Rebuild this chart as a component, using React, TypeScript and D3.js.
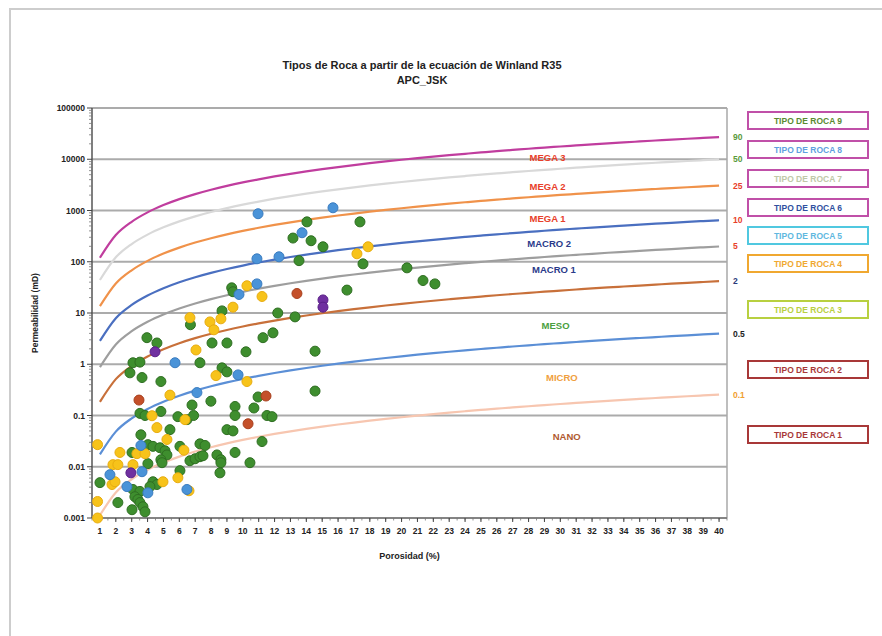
import React from 'react';
import * as d3 from 'd3';

// ---------- DATA ----------
const POROSITY = [1, 2, 3, 4, 5, 6, 7, 8, 9, 10, 11, 12, 13, 14, 15, 16, 17, 18, 19, 20,
  21, 22, 23, 24, 25, 26, 27, 28, 29, 30, 31, 32, 33, 34, 35, 36, 37, 38, 39, 40];
const R35_VALUES = [90, 50, 25, 10, 5, 2, 0.5, 0.1];
const R35_LABELS = ['90', '50', '25', '10', '5', '2', '0.5', '0.1'];
const Y_TICKS = [0.001, 0.01, 0.1, 1, 10, 100, 1000, 10000, 100000];
const Y_TICK_LABELS = ['0.001', '0.01', '0.1', '1', '10', '100', '1000', '10000', '100000'];
const X_TICKS = POROSITY;

const ZONE_LABELS = ['MEGA 3', 'MEGA 2', 'MEGA 1', 'MACRO 2', 'MACRO 1', 'MESO', 'MICRO', 'NANO'];
const ZONE_X = [29.2, 29.2, 29.2, 29.3, 29.6, 29.7, 30.1, 30.4];
const ZONE_K = [10700, 3000, 690, 225, 70, 5.6, 0.55, 0.039];

const LEGEND_LABELS = ['TIPO DE ROCA 9', 'TIPO DE ROCA 8', 'TIPO DE ROCA 7', 'TIPO DE ROCA 6',
  'TIPO DE ROCA 5', 'TIPO DE ROCA 4', 'TIPO DE ROCA 3', 'TIPO DE ROCA 2', 'TIPO DE ROCA 1'];

// porosity (%), permeability (mD)
const greenPoints: [number, number][] = [
  [3.96, 3.3], [4.59, 2.6], [8.06, 2.6], [9.0, 2.6], [10.2, 1.75], [12.2, 10], [11.27, 3.3], [11.9, 4.1],
  [3.08, 1.07], [3.52, 1.1], [2.89, 0.68], [7.3, 1.07], [8.69, 0.85], [9.0, 0.71], [3.65, 0.55], [4.84, 0.46],
  [7.99, 0.19], [10.96, 0.23], [9.51, 0.15], [9.51, 0.10], [10.7, 0.14], [3.52, 0.11], [3.84, 0.10], [4.84, 0.12],
  [5.91, 0.095], [6.48, 0.083], [6.8, 0.16], [6.9, 0.1], [11.52, 0.1], [11.84, 0.095], [5.41, 0.053], [9.0, 0.053],
  [9.38, 0.05], [3.58, 0.042], [11.21, 0.031], [4.02, 0.027], [4.34, 0.025], [4.78, 0.0235], [5.1, 0.0205],
  [5.22, 0.017], [6.04, 0.025], [7.3, 0.028], [7.62, 0.026], [9.51, 0.019], [3.02, 0.019], [8.37, 0.017],
  [8.62, 0.0137], [8.62, 0.012], [8.56, 0.0076], [6.67, 0.0131], [6.99, 0.0143], [7.3, 0.0157], [7.49, 0.0164],
  [4.84, 0.0137], [4.91, 0.012], [10.45, 0.012], [4.02, 0.0115], [6.04, 0.0084], [1.0, 0.0049], [4.34, 0.0051],
  [4.59, 0.0045], [4.15, 0.0041], [3.08, 0.0036], [3.52, 0.0033], [3.2, 0.0026], [3.39, 0.0023], [2.13, 0.002],
  [3.52, 0.002], [3.71, 0.00166], [3.84, 0.00132], [3.02, 0.00145],
  [14.04, 600], [17.38, 600], [13.16, 290], [14.3, 257], [15.05, 196], [13.54, 105], [17.57, 91], [9.3, 31],
  [9.38, 26], [8.69, 11], [13.29, 8.4], [16.56, 28], [20.34, 76], [21.35, 43], [22.1, 37],
  [14.55, 1.8], [14.55, 0.3], [6.7, 5.9],
];
const yellowPoints: [number, number][] = [
  [6.67, 8.1], [7.93, 6.7], [8.18, 4.7], [8.62, 7.7], [9.38, 13], [10.26, 34], [11.21, 21], [7.05, 1.9],
  [8.31, 0.6], [10.26, 0.46], [5.41, 0.25], [4.28, 0.099], [6.36, 0.083], [4.59, 0.058], [5.22, 0.034],
  [0.85, 0.027], [6.29, 0.021], [2.26, 0.019], [3.33, 0.018], [3.84, 0.018], [1.82, 0.011], [2.13, 0.011],
  [3.08, 0.011], [4.97, 0.0051], [5.91, 0.0061], [1.76, 0.0045], [1.95, 0.0051], [6.61, 0.0034],
  [0.85, 0.0021], [0.85, 0.001], [17.19, 143], [17.89, 196],
];
const bluePoints: [number, number][] = [
  [10.96, 865], [15.68, 1130], [13.73, 368], [10.89, 114], [12.28, 125], [10.89, 37], [9.76, 23],
  [5.73, 1.07], [9.7, 0.62], [7.11, 0.28], [3.58, 0.026], [1.63, 0.007], [3.65, 0.008], [2.7, 0.0041],
  [4.02, 0.0031], [6.48, 0.0036],
];
const purplePoints: [number, number][] = [[4.47, 1.75], [2.95, 0.0076], [15.05, 18], [15.05, 13]];
const redPoints: [number, number][] = [[3.46, 0.2], [11.46, 0.24], [10.33, 0.069], [13.41, 24]];

// Winland R35: log r35 = 0.732 + 0.588 log k - 0.864 log phi
const winlandK = (r35: number, phi: number) =>
  Math.pow(10, (Math.log10(r35) - 0.732 + 0.864 * Math.log10(phi)) / 0.588);

// ---------- STYLE / LAYOUT ----------
const W = 882, H = 636;
const P = { left: 92, right: 727, top: 108, bottom: 518 };
const FONT = 'Liberation Sans, Arial, sans-serif';
const CURVE_COLORS = ['#c03d9e', '#d9d9d9', '#f0924a', '#4a6fc0', '#9e9e9e', '#c8703a', '#5b8fd6', '#f7c6b0'];
const R35_LABEL_COLORS = ['#5a9a3a', '#5a9a3a', '#e8402a', '#e8402a', '#e8402a', '#2a3a7a', '#222222', '#f0a030'];
const ZONE_COLORS = ['#e8402a', '#e8402a', '#e8402a', '#2a3a8a', '#2a3a8a', '#4aa040', '#f0a040', '#b05a30'];
const LEGEND_Y = [112, 141, 170, 199, 227, 255, 301, 361, 426];
const LEGEND_STROKE = ['#c050a8', '#c050a8', '#c050a8', '#c050a8', '#50c8e0', '#f0a830', '#b8d040', '#a83838', '#a83838'];
const LEGEND_TEXT = ['#5a8a30', '#5fa0e0', '#c0c8a8', '#3050a0', '#60b8e0', '#f0a830', '#b8d040', '#a83838', '#a83838'];

const SERIES = [
  { pts: greenPoints, fill: '#3e8e2e', stroke: '#2f6e22' },
  { pts: yellowPoints, fill: '#f7c31a', stroke: '#e8ac10' },
  { pts: bluePoints, fill: '#4a93d8', stroke: '#3a7cc0' },
  { pts: redPoints, fill: '#c4502a', stroke: '#a8401e' },
  { pts: purplePoints, fill: '#7030a0', stroke: '#5a2088' },
];

export default function App() {
  const x = d3.scaleLinear().domain([0.5, 40.5]).range([P.left, P.right]);
  const y = d3.scaleLog().domain([0.001, 100000]).range([P.bottom, P.top]);
  const line = d3.line<number>()
    .x((d) => x(d))
    .curve(d3.curveMonotoneX);

  const minorY: number[] = [];
  for (let e = -3; e < 5; e++) for (let m = 2; m <= 9; m++) minorY.push(m * Math.pow(10, e));
  const minorX = d3.range(0.5, 40.6, 0.5);

  return (
    <svg width={W} height={H} style={{ position: 'absolute', left: 0, top: 0, background: '#fff' }}
      fontFamily={FONT}>
      <rect x={10} y={9} width={900} height={700} fill="#fff" stroke="#cdcdcd" strokeWidth={2} />
      <text x={422} y={69} textAnchor="middle" fontSize={11} fontWeight="bold" fill="#222">
        Tipos de Roca a partir de la ecuación de Winland R35
      </text>
      <text x={422} y={84} textAnchor="middle" fontSize={11} fontWeight="bold" fill="#222">APC_JSK</text>

      {/* gridlines */}
      {Y_TICKS.map((t) => (
        <line key={'g' + t} x1={P.left} x2={P.right} y1={y(t)} y2={y(t)} stroke="#ababab" strokeWidth={2} />
      ))}
      <line x1={P.right} x2={P.right} y1={P.top} y2={P.bottom} stroke="#a8a8a8" strokeWidth={1.5} />

      {/* curves */}
      {R35_VALUES.map((r, i) => (
        <path key={'c' + r} d={line.y((phi) => y(winlandK(r, phi)))(POROSITY) || ''} fill="none"
          stroke={CURVE_COLORS[i]} strokeWidth={2.2} />
      ))}

      {/* axes */}
      <line x1={P.left} x2={P.left} y1={P.top} y2={P.bottom} stroke="#555" strokeWidth={1.5} />
      {minorY.map((t) => (
        <line key={'my' + t} x1={P.left - 3} x2={P.left} y1={y(t)} y2={y(t)} stroke="#777" strokeWidth={0.8} />
      ))}
      {Y_TICKS.map((t, i) => (
        <g key={'yt' + t}>
          <line x1={P.left - 5} x2={P.left} y1={y(t)} y2={y(t)} stroke="#444" strokeWidth={1} />
          <text x={85} y={y(t) + 3} textAnchor="end" fontSize={8.5} fontWeight="bold" fill="#222">
            {Y_TICK_LABELS[i]}
          </text>
        </g>
      ))}
      <line x1={P.left} x2={P.right} y1={P.bottom} y2={P.bottom} stroke="#777" strokeWidth={1.5} />
      {minorX.map((t) => (
        <line key={'mx' + t} x1={x(t)} x2={x(t)} y1={P.bottom} y2={P.bottom + 2.5} stroke="#777" strokeWidth={0.8} />
      ))}
      {X_TICKS.map((t) => (
        <g key={'xt' + t}>
          <line x1={x(t)} x2={x(t)} y1={P.bottom} y2={P.bottom + 4} stroke="#444" strokeWidth={1} />
          <text x={x(t)} y={534} textAnchor="middle" fontSize={8.5} fontWeight="bold" fill="#222">{t}</text>
        </g>
      ))}
      <text x={(P.left + P.right) / 2} y={559} textAnchor="middle" fontSize={9} fontWeight="bold" fill="#222">
        Porosidad (%)
      </text>
      <text transform={`translate(38,${(P.top + P.bottom) / 2}) rotate(-90)`} textAnchor="middle" fontSize={8.5}
        fontWeight="bold" fill="#222">
        Permeabilidad (mD)
      </text>

      {/* points */}
      {SERIES.map((s, si) => (
        <g key={'s' + si}>
          {s.pts.map((p, j) => (
            <circle key={j} cx={x(p[0])} cy={y(p[1])} r={5} fill={s.fill} stroke={s.stroke} strokeWidth={1} />
          ))}
        </g>
      ))}

      {/* zone labels */}
      {ZONE_LABELS.map((z, i) => (
        <text key={z} x={x(ZONE_X[i])} y={y(ZONE_K[i]) + 3.5} textAnchor="middle" fontSize={9.5} fontWeight="bold"
          fill={ZONE_COLORS[i]}>{z}</text>
      ))}

      {/* r35 labels */}
      {R35_VALUES.map((r, i) => (
        <text key={'rl' + r} x={733} y={y(winlandK(r, 40)) + 3} fontSize={8.5} fontWeight="bold"
          fill={R35_LABEL_COLORS[i]}>{R35_LABELS[i]}</text>
      ))}

      {/* legend boxes */}
      {LEGEND_LABELS.map((l, i) => (
        <g key={l}>
          <rect x={748} y={LEGEND_Y[i]} width={120} height={17} fill="#fff" stroke={LEGEND_STROKE[i]} strokeWidth={2} />
          <text x={808} y={LEGEND_Y[i] + 11.5} textAnchor="middle" fontSize={8.5} fontWeight="bold"
            fill={LEGEND_TEXT[i]}>{l}</text>
        </g>
      ))}
    </svg>
  );
}
